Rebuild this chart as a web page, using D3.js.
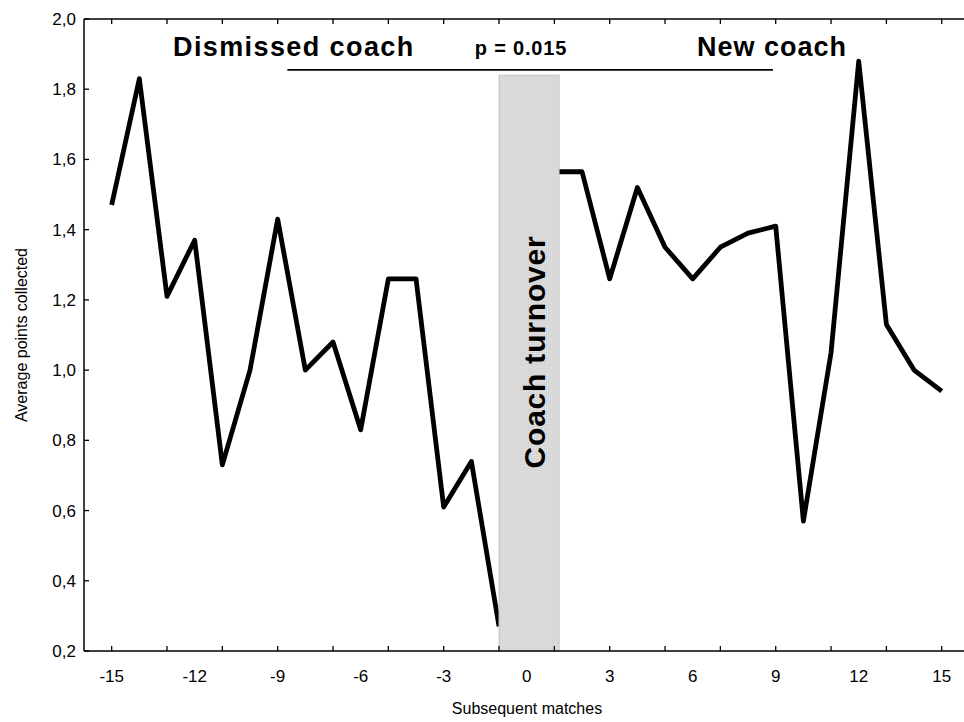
<!DOCTYPE html>
<html><head><meta charset="utf-8">
<script src="https://cdn.jsdelivr.net/npm/d3@7"></script>
<style>body{margin:0;background:#fff}svg{display:block;font-family:"Liberation Sans",Arial,sans-serif}</style>
</head><body><svg id="c" width="964" height="722"></svg>
<script>
const beforeMatches = [-15,-14,-13,-12,-11,-10,-9,-8,-7,-6,-5,-4,-3,-2,-1];
const beforeValues  = [1.47,1.83,1.21,1.37,0.73,1.00,1.43,1.00,1.08,0.83,1.26,1.26,0.61,0.74,0.27];
const afterMatches  = [1,2,3,4,5,6,7,8,9,10,11,12,13,14,15];
const afterValues   = [1.565,1.565,1.26,1.52,1.35,1.26,1.35,1.39,1.41,0.57,1.05,1.88,1.13,1.00,0.94];
const xTickValues   = [-15,-13,-11,-9,-7,-5,-3,-1,1,3,5,7,9,11,13,15];
const xLabelValues  = [-15,-12,-9,-6,-3,0,3,6,9,12,15];
const yTickValues   = [0.2,0.4,0.6,0.8,1.0,1.2,1.4,1.6,1.8,2.0];
const turnoverSpan  = [-1, 1.17];
const turnoverTop   = 1.84;
const bracketSpan   = [-8.65, 8.9];
const bracketLevel  = 1.855;

const svg = d3.select("#c");
const x = d3.scaleLinear().domain([-16,16]).range([84, 969.4]);
const y = d3.scaleLinear().domain([0.2,2.0]).range([651,19]);
const fmt = v => d3.format(".1f")(v).replace(".", ",");

// line
const line = d3.line().x(d=>x(d[0])).y(d=>y(d[1]));
const before = beforeMatches.map((m,i)=>[m,beforeValues[i]]);
const after = afterMatches.map((m,i)=>[m,afterValues[i]]);
[before, after].forEach(s=>{
  svg.append("path").attr("d", line(s)).attr("fill","none")
    .attr("stroke","#000").attr("stroke-width",4.8).attr("stroke-linejoin","round").attr("stroke-linecap","butt");
});

// turnover bar
const defs = svg.append("defs");
const pat = defs.append("pattern").attr("id","dots").attr("width",2).attr("height",2).attr("patternUnits","userSpaceOnUse");
pat.append("rect").attr("width",2).attr("height",2).attr("fill","#dcdcdc");
pat.append("rect").attr("width",1).attr("height",1).attr("fill","#cfcfcf");
svg.append("rect").attr("x", x(turnoverSpan[0])).attr("y", y(turnoverTop))
  .attr("width", x(turnoverSpan[1])-x(turnoverSpan[0])).attr("height", y(0.2)-y(turnoverTop))
  .attr("fill","url(#dots)").attr("stroke","#c4c4c4").attr("stroke-width",1);
svg.append("text").attr("transform",`translate(545,352) rotate(-90)`)
  .attr("text-anchor","middle").attr("font-weight","bold").attr("font-size",30).attr("letter-spacing",0.8)
  .text("Coach turnover");

// axes frame
svg.append("line").attr("x1",x(-16)).attr("x2",x(16)).attr("y1",y(0.2)).attr("y2",y(0.2)).attr("stroke","#000").attr("stroke-width",1.5);
svg.append("line").attr("x1",x(-16)).attr("x2",x(16)).attr("y1",y(2.0)).attr("y2",y(2.0)).attr("stroke","#000").attr("stroke-width",1.5);
svg.append("line").attr("x1",x(-16)).attr("x2",x(-16)).attr("y1",y(2.0)).attr("y2",y(0.2)).attr("stroke","#000").attr("stroke-width",1.5);

xTickValues.forEach(v=>{
  svg.append("line").attr("x1",x(v)).attr("x2",x(v)).attr("y1",y(0.2)).attr("y2",y(0.2)-5).attr("stroke","#000").attr("stroke-width",1.3);
  svg.append("line").attr("x1",x(v)).attr("x2",x(v)).attr("y1",y(2.0)).attr("y2",y(2.0)+5).attr("stroke","#000").attr("stroke-width",1.3);
});
yTickValues.forEach(v=>{
  svg.append("line").attr("x1",x(-16)).attr("x2",x(-16)+5).attr("y1",y(v)).attr("y2",y(v)).attr("stroke","#000").attr("stroke-width",1.3);
  svg.append("text").attr("x",76).attr("y",y(v)+6).attr("text-anchor","end").attr("font-size",17).text(fmt(v));
});
xLabelValues.forEach(v=>{
  svg.append("text").attr("x",x(v)).attr("y",682).attr("text-anchor","middle").attr("font-size",17).text(v);
});

svg.append("text").attr("x",527).attr("y",714).attr("text-anchor","middle").attr("font-size",16).text("Subsequent matches");
svg.append("text").attr("transform","translate(27,335) rotate(-90)").attr("text-anchor","middle").attr("font-size",16).text("Average points collected");

// annotations
svg.append("line").attr("x1",x(bracketSpan[0])).attr("x2",x(bracketSpan[1])).attr("y1",y(bracketLevel)).attr("y2",y(bracketLevel)).attr("stroke","#000").attr("stroke-width",1.6);
svg.append("text").attr("x",173).attr("y",56).attr("font-weight","bold").attr("font-size",27).attr("letter-spacing",1.4).text("Dismissed coach");
svg.append("text").attr("x",521).attr("y",55).attr("text-anchor","middle").attr("font-weight","bold").attr("font-size",20).attr("letter-spacing",0.8).text("p = 0.015");
svg.append("text").attr("x",697).attr("y",56).attr("font-weight","bold").attr("font-size",27).attr("letter-spacing",1.0).text("New coach");
</script></body></html>
